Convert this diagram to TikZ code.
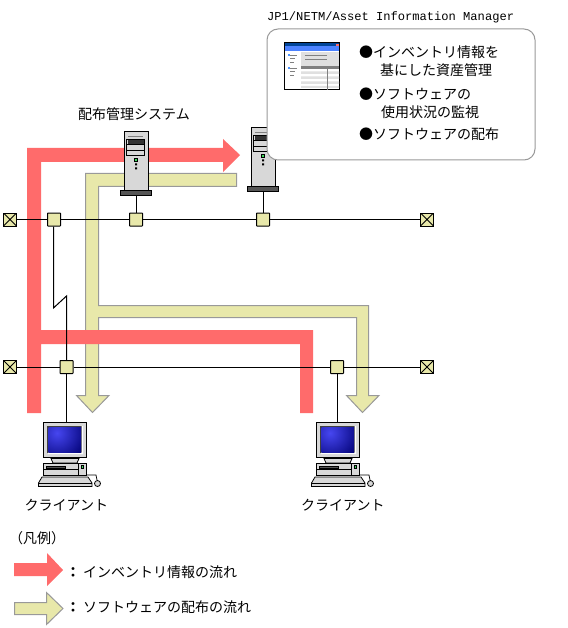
\documentclass[tikz,border=0pt]{standalone}
\usepackage{fontspec}
\setmainfont{Noto Sans CJK JP}
\newfontfamily\monof{Liberation Mono}
\definecolor{flowred}{RGB}{255,107,107}
\definecolor{flowyel}{RGB}{232,232,170}
\definecolor{flowgray}{RGB}{153,153,153}
\definecolor{srvgray}{RGB}{216,216,216}
\definecolor{srvdark}{RGB}{85,85,85}
\definecolor{srvgreen}{RGB}{60,220,90}
\definecolor{scrA}{RGB}{70,70,240}
\definecolor{scrB}{RGB}{0,0,115}
\tikzset{
  jbox/.style={draw=black,fill=flowyel,line width=1pt,minimum size=13pt,inner sep=0pt,rounded corners=.5pt},
  term/.style={draw=black,fill=flowyel,line width=1pt,minimum size=13pt,inner sep=0pt,
    path picture={\draw[line width=.8pt] (path picture bounding box.south west)--(path picture bounding box.north east)
      (path picture bounding box.north west)--(path picture bounding box.south east);}},
  wire/.style={draw=black,line width=1pt},
  jtext/.style={anchor=base west,inner sep=0pt,font=\fontsize{14pt}{14pt}\selectfont,text=black},
  srvbody/.style={draw=black,fill=srvgray,line width=1pt,minimum width=24pt,minimum height=59pt,inner sep=0pt},
  srvbase/.style={draw=black,fill=srvdark,line width=1pt,minimum width=31pt,minimum height=5pt,inner sep=0pt},
  monbody/.style={draw=black,fill=srvgray,line width=1pt,minimum width=43pt,minimum height=35pt,inner sep=0pt},
  part/.style={draw=black,fill=srvgray,line width=.8pt},
}
\newcommand{\srvdraw}[1]{%
  \node[srvbody] (#1body) at (136,161.5) {};
  \node[srvbase] (#1base) at (136,193.5) {};
  \draw[line width=.8pt,draw=gray] (128,136)--(143,136);
  \draw[part] (126.5,139.5) rectangle (144.5,155.5);
  \draw[line width=.6pt] (126.5,144.5)--(144.5,144.5) (126.5,150)--(144.5,150);
  \fill[black!80] (128,140.5) rectangle (143.5,144);
  \fill[srvgreen,draw=black,line width=.6pt] (134.5,158.5) rectangle (137.5,161.5);
  \fill[black] (135,163.5) rectangle (137,165.5) (135,167.5) rectangle (137,169.5);
}
\newcommand{\clientdraw}[1]{%
  \draw[part] (51,458.5)--(79,458.5)--(77,463)--(53,463)--cycle;
  \node[monbody,minimum width=43.5pt,minimum height=35pt] (#1mon) at (65,440) {};
  \fill[gray!50!black] (47,425.5) rectangle (82,453);
  \fill[white] (48,452.5) rectangle (83,454) (81.5,426) rectangle (83,454);
  \begin{scope}
    \clip (48.5,427) rectangle (81,452);
    \shade[inner color=scrA,outer color=scrB] (57,433) circle (32);
  \end{scope}
  \draw[part] (43.5,463.5) rectangle (86.5,475.5);
  \draw[line width=.7pt] (43.5,469.5)--(78.5,469.5) (78.5,463.5)--(78.5,475.5);
  \fill[srvdark,draw=black,line width=.5pt] (46.5,466) rectangle (65.5,468.5);
  \fill[srvgreen,draw=black,line width=.6pt] (81,465) rectangle (83.5,468.5);
  \draw[part] (42,477)--(88,477)--(92,483)--(92,486.5)--(38.5,486.5)--(38.5,483)--cycle;
  \draw[line width=.8pt] (38.5,483)--(92,483);
  \draw[line width=.7pt] (87,475)--(96,475)--(97,480);
  \draw[part] (97.5,483.5) circle (3);
}
\begin{document}
\begin{tikzpicture}[x=1pt,y=-1pt]
\useasboundingbox (0,0) rectangle (567,628);
% yellow flow
\draw[draw=flowgray,fill=flowyel,line width=1pt,miter limit=10]
  (85.5,173.5)--(236.5,173.5)--(236.5,186.5)--(98.5,186.5)--(98.5,305.5)--(368.5,305.5)--(368.5,395.5)--(379,395.5)
  --(362.5,412.5)--(346.5,395.5)--(356.5,395.5)--(356.5,317.5)--(98.5,317.5)--(98.5,395.5)--(109,395.5)
  --(92.5,412.5)--(76.5,395.5)--(85.5,395.5)--cycle;
% red flow
\fill[flowred] (27,148)--(223,148)--(223,139)--(240,155)--(223,172)--(223,162)--(41,162)--(41,330)--(313,330)--(313,413)--(300,413)--(300,344)--(41,344)--(41,413)--(27,413)--cycle;
% servers
\srvdraw{a}
\begin{scope}[shift={(127,-4)}]
  \srvdraw{b}
\end{scope}
% callout
\node[draw=flowgray,fill=white,line width=1pt,rounded corners=11pt,minimum width=268pt,minimum height=131pt,inner sep=0pt] (call) at (401,94.5) {};
% app icon
\node[draw=black,fill=white,line width=1pt,minimum width=55pt,minimum height=47pt,inner sep=0pt] (icon) at (311.5,66.5) {};
\fill[blue!55!cyan!60!black] (284.5,43.5) rectangle (339,51.5);
\fill[blue!70!cyan!70!white] (284.5,46.5) rectangle (339,51.5);
\fill[flowred] (336,44) rectangle (339,46);
\fill[black!12] (301,52) rectangle (339,66);
\draw[gray,line width=.7pt] (305,55)--(327,55) (305,59)--(327,59);
\fill[gray] (301,66) rectangle (339,69);
\fill[black!12] (301,71.5) rectangle (339,74) (301,76.5) rectangle (339,79) (301,81.5) rectangle (339,84) (301,86) rectangle (339,88);
\draw[gray,line width=.8pt] (327.5,69)--(327.5,90);
\foreach \yy in {55,68}{
  \fill[blue!60!cyan!70!white] (288,\yy-1) rectangle (290,\yy+1);
  \draw[gray,line width=.5pt] (290,\yy)--(297,\yy) (290,\yy+3)--(295,\yy+3) (290,\yy+7)--(294,\yy+7);
}
% junctions and terminators
\node[term] (t1) at (10,219.5) {};
\node[term] (t2) at (427,219.5) {};
\node[term] (t3) at (10,367) {};
\node[term] (t4) at (427,367) {};
\node[jbox] (j1) at (54,219.5) {};
\node[jbox] (j2) at (136,219.5) {};
\node[jbox] (j3) at (263,219.5) {};
\node[jbox] (j4) at (66.5,367) {};
\node[jbox] (j5) at (337,367) {};
% clients
\clientdraw{c}
\begin{scope}[shift={(273,0)}]
  \clientdraw{d}
\end{scope}
% connectors
\draw[wire] (t1)--(j1);
\draw[wire] (j1)--(j2);
\draw[wire] (j2)--(j3);
\draw[wire] (j3)--(t2);
\draw[wire] (t3)--(j4);
\draw[wire] (j4)--(j5);
\draw[wire] (j5)--(t4);
\draw[wire] (j2)--(abase);
\draw[wire] (j3)--(bbase);
\coordinate (z1) at (53.5,308);
\coordinate (z2) at (66.5,296);
\draw[wire] (j1.south -| z1)--(z1)--(z2)--(j4);
\draw[wire] (j4)--(j4 |- cmon.north);
\draw[wire] (j5)--(j5 |- dmon.north);
% labels
\node[anchor=base west,inner sep=0pt,font=\monof\fontsize{12.1pt}{12pt}\selectfont] (ttl) at (267,21) {JP1/NETM/Asset Information Manager};
\node[jtext] (l1) at (78,120) {配布管理システム};
\node[jtext] (b1) at (359,58) {●インベントリ情報を};
\node[jtext] (b2) at (380,76) {基にした資産管理};
\node[jtext] (b3) at (359,100) {●ソフトウェアの};
\node[jtext] (b4) at (381,118) {使用状況の監視};
\node[jtext] (b5) at (359,140) {●ソフトウェアの配布};
\node[jtext] (c1) at (24.5,510) {クライアント};
\node[jtext] (c2) at (301,510) {クライアント};
\node[jtext] (lg) at (9,543) {（凡例）};
% legend
\fill[flowred] (14,563)--(47,563)--(47,553)--(63,570)--(47,586)--(47,576)--(14,576)--cycle;
\draw[draw=flowgray,fill=flowyel,line width=1pt,miter limit=10] (14.5,602.5)--(46.5,602.5)--(46.5,592.5)--(63,608.5)--(46.5,624.5)--(46.5,614.5)--(14.5,614.5)--cycle;
\node[jtext] (lg1) at (66,577) {\textbf{：}\kern3pt インベントリ情報の流れ};
\node[jtext] (lg2) at (66,612) {\textbf{：}\kern3pt ソフトウェアの配布の流れ};
\end{tikzpicture}
\end{document}
